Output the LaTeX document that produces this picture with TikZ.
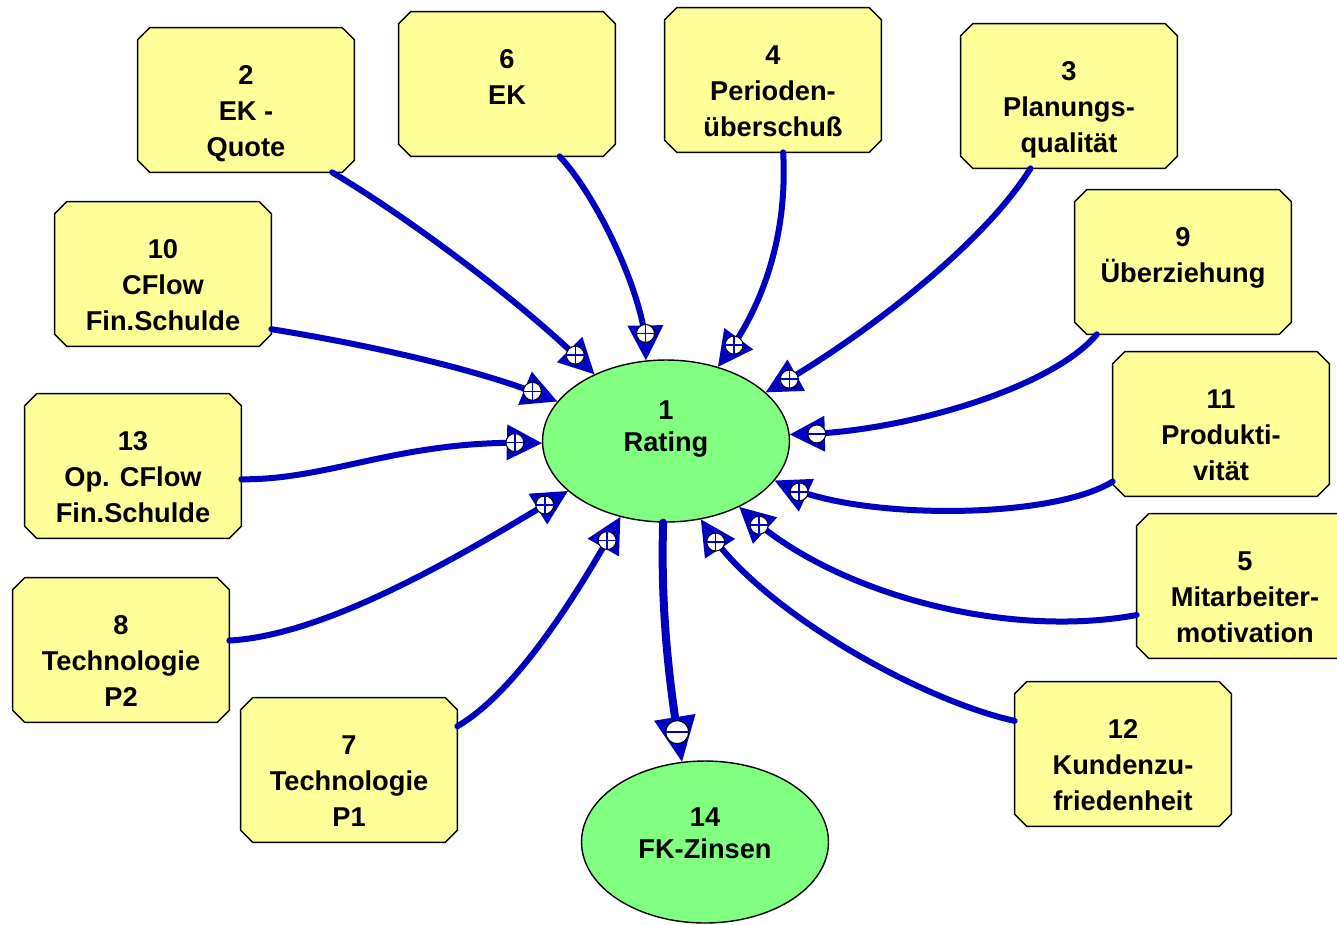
\documentclass[tikz,border=0pt]{standalone}
\usepackage{fontspec}
\setmainfont{Liberation Sans}
\usetikzlibrary{shapes.geometric,decorations.markings,positioning}
\definecolor{boxyellow}{RGB}{255,255,153}
\definecolor{nodegreen}{RGB}{128,255,128}
\definecolor{linkblue}{RGB}{0,0,192}

% arrow head with a sign in a circle; #1 = length, #2 = half width,
% #3 = distance of the circle from the tip, #4 = radius, #5 = 1 for plus
\newcommand{\signhead}[5]{%
  \fill[linkblue, shorten >=0pt] (0,0) -- (-#1,#2) -- (-#1,-#2) -- cycle;
  \pgftransformshift{\pgfpoint{-#3}{0cm}}%
  \pgftransformresetnontranslations
  \filldraw[fill=white, draw=black, line width=0.6pt, shorten >=0pt] (0,0) circle (#4);
  \draw[line width=0.9pt, shorten >=0pt] (-#4,0) -- (#4,0);
  \ifnum#5=1 \draw[line width=0.9pt, shorten >=0pt] (0,-#4) -- (0,#4);\fi
}

\tikzset{
  box/.style={rectangle, minimum width=4.32cm, minimum height=2.88cm, inner sep=0pt,
    append after command={\pgfextra{\let\boxnode\tikzlastnode
      \filldraw[fill=boxyellow, draw=black, line width=0.8pt]
        ([xshift=0.24cm]\boxnode.north west) -- ([xshift=-0.24cm]\boxnode.north east)
        -- ([yshift=-0.24cm]\boxnode.north east) -- ([yshift=0.24cm]\boxnode.south east)
        -- ([xshift=-0.24cm]\boxnode.south east) -- ([xshift=0.24cm]\boxnode.south west)
        -- ([yshift=0.24cm]\boxnode.south west) -- ([yshift=-0.24cm]\boxnode.north west)
        -- cycle;}}},
  oval/.style={ellipse, draw, line width=0.8pt, fill=nodegreen,
    minimum width=4.94cm, minimum height=3.24cm, inner sep=0pt},
  txt/.style={font=\bfseries\fontsize{15.5}{20.5}\selectfont, align=center,
    inner sep=0pt, outer sep=0pt},
  ovaltxt/.style={txt, font=\bfseries\fontsize{15.5}{18.2}\selectfont},
  link/.style={draw=linkblue, line width=0.12cm, line cap=round, shorten >=0.25cm},
  plushead/.style={postaction={decorate, decoration={markings,
      mark=at position 1 with {\signhead{0.7cm}{0.36cm}{0.54cm}{0.18cm}{1}}}}},
  minushead/.style={postaction={decorate, decoration={markings,
      mark=at position 1 with {\signhead{0.7cm}{0.36cm}{0.54cm}{0.18cm}{0}}}}},
  bigminushead/.style={postaction={decorate, decoration={markings,
      mark=at position 1 with {\signhead{0.9cm}{0.42cm}{0.6cm}{0.23cm}{0}}}}},
}

\begin{document}
\begin{tikzpicture}[x=0.02cm,y=-0.02cm]
  \path[use as bounding box, fill=white] (0,0) rectangle (1337,924);

  % target nodes
  \node[oval] (e1) at (666,441) {};
  \node[ovaltxt] (t1) at (666,429) {1\\Rating};
  \node[oval] (e14) at (705,842) {};
  \node[ovaltxt] (t14) at (705,833) {14\\FK-Zinsen};

  % influencing factors
  \node[box] (b2) at (246,100) {};
  \node[txt, below=0.76cm of b2.north] (t2) {2\\EK -\\Quote};
  \node[box] (b6) at (507,84) {};
  \node[txt, below=0.76cm of b6.north] (t6) {6\\EK};
  \node[box] (b4) at (773,80) {};
  \node[txt, below=0.76cm of b4.north] (t4) {4\\Perioden-\\überschuß};
  \node[box] (b3) at (1069,96) {};
  \node[txt, below=0.76cm of b3.north] (t3) {3\\Planungs-\\qualität};
  \node[box] (b9) at (1183,262) {};
  \node[txt, below=0.76cm of b9.north] (t9) {9\\Überziehung};
  \node[box] (b10) at (163,274) {};
  \node[txt, below=0.76cm of b10.north] (t10) {10\\CFlow\\Fin.Schulde};
  \node[box] (b11) at (1221,424) {};
  \node[txt, below=0.76cm of b11.north] (t11) {11\\Produkti-\\vität};
  \node[box] (b13) at (133,466) {};
  \node[txt, below=0.76cm of b13.north] (t13) {13\\Op. CFlow\\Fin.Schulde};
  \node[box] (b5) at (1245,586) {};
  \node[txt, below=0.76cm of b5.north] (t5) {5\\Mitarbeiter-\\motivation};
  \node[box] (b8) at (121,650) {};
  \node[txt, below=0.76cm of b8.north] (t8) {8\\Technologie\\P2};
  \node[box] (b7) at (349,770) {};
  \node[txt, below=0.76cm of b7.north] (t7) {7\\Technologie\\P1};
  \node[box] (b12) at (1123,754) {};
  \node[txt, below=0.76cm of b12.north] (t12) {12\\Kundenzu-\\friedenheit};

  % influences on the rating
  \draw[link, plushead] (b2.-40) .. controls (420,225) and (530,310) .. (e1.137);
  \draw[link, plushead] (b6.-54) .. controls (600,200) and (645,300) .. (e1.104);
  \draw[link, plushead] (b4.-82) .. controls (788,240) and (760,310) .. (e1.55);
  \draw[link, plushead] (b3.-118) .. controls (980,250) and (850,345) .. (e1.26);
  \draw[link, minushead] (b9.-140) .. controls (1050,390) and (900,432) .. (e1.3);
  \draw[link, plushead] (b10.-27) .. controls (370,345) and (480,370) .. (e1.160);
  \draw[link, plushead] (b13.-7) .. controls (330,480) and (400,440) .. (e1.181);
  \draw[link, plushead] (b8.5) .. controls (330,635) and (470,550) .. (e1.207);
  \draw[link, plushead] (b7.22) .. controls (520,690) and (585,580) .. (e1.239);
  \draw[link, plushead] (b11.208) .. controls (1050,520) and (860,520) .. (e1.340);
  \draw[link, plushead] (b5.195) .. controls (1000,640) and (830,590) .. (e1.318);
  \draw[link, plushead] (b12.163) .. controls (920,700) and (760,610) .. (e1.294);
  \draw[link, bigminushead, line width=0.16cm] (e1.268) .. controls (660,620) and (672,700) .. (e14.106);
\end{tikzpicture}
\end{document}
